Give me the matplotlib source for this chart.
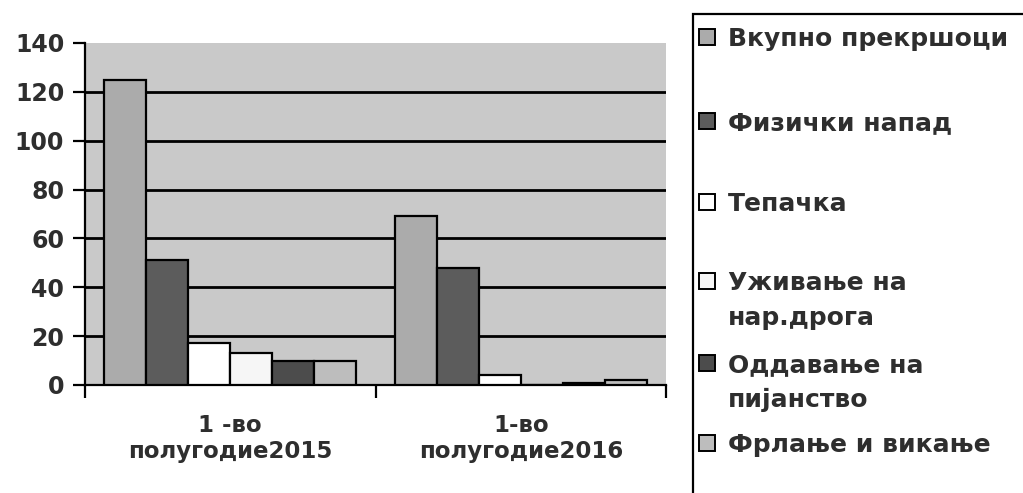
import matplotlib
matplotlib.use("Agg")
import matplotlib.pyplot as plt
from matplotlib.patches import Rectangle
import numpy as np

categories = ["1 -во\nполугодие2015", "1-во\nполугодие2016"]
series_names = ["Вкупно прекршоци", "Физички напад", "Тепачка",
                "Уживање на\nнар.дрога", "Оддавање на\nпијанство", "Фрлање и викање"]
values_2015 = [125, 51, 17, 13, 10, 10]
values_2016 = [69, 48, 4, 0, 1, 2]
yticks = [0, 20, 40, 60, 80, 100, 120, 140]

colors = ["#ababab", "#5c5c5c", "#ffffff", "#f6f6f6", "#4c4c4c", "#bdbdbd"]
txt = "#2e2e2e"
font = "DejaVu Sans"

W, H = 1023, 493
fig = plt.figure(figsize=(W / 100, H / 100), dpi=100)
fig.patch.set_facecolor("white")
ax = fig.add_axes([85 / W, 1 - 385 / H, (666 - 85) / W, (385 - 43) / H])
ax.set_facecolor("#c9c9c9")

n = len(series_names)
gap = 0.92
bw = 1.0 / (n + gap)
x = np.arange(len(categories))
data = np.array([values_2015, values_2016])
for i in range(n):
    off = (i - (n - 1) / 2) * bw
    ax.bar(x + off, data[:, i], width=bw, color=colors[i], edgecolor="black",
           linewidth=1.6, zorder=3)

ax.set_xlim(-0.5, len(categories) - 0.5)
ax.set_ylim(0, 140)
for t in yticks[1:-1]:
    ax.axhline(t, color="black", linewidth=2.0, zorder=1)

ax.set_yticks(yticks)
ax.set_yticklabels([str(t) for t in yticks], fontsize=17, fontweight="bold",
                   color=txt, family=font)
ax.tick_params(axis="y", direction="out", length=9, width=1.6, color="black", pad=6)
ax.set_xticks(x)
ax.set_xticklabels(categories, fontsize=16.5, fontweight="bold", color=txt,
                   family=font, linespacing=1.15)
ax.tick_params(axis="x", which="major", length=0, pad=21)
ax.set_xticks(np.arange(-0.5, len(categories), 1.0), minor=True)
ax.tick_params(axis="x", which="minor", direction="out", length=9, width=1.6, color="black")

for s in ["top", "right"]:
    ax.spines[s].set_visible(False)
ax.spines["left"].set_linewidth(1.6)
ax.spines["bottom"].set_linewidth(1.6)

# legend panel
fig.add_artist(Rectangle((693 / W, 1 - 500 / H), (1040 - 693) / W, (500 - 14) / H,
                         transform=fig.transFigure, facecolor="white",
                         edgecolor="black", linewidth=1.6, clip_on=False))
baselines = [46, 130, 211, 290, 372, 452]
line_gap = 35
for i, name in enumerate(series_names):
    b = baselines[i]
    fig.add_artist(Rectangle((699 / W, 1 - (b - 1) / H), 16 / W, 16 / H,
                             transform=fig.transFigure, facecolor=colors[i],
                             edgecolor="black", linewidth=1.4))
    for j, line in enumerate(name.split("\n")):
        fig.text(728 / W, 1 - (b + j * line_gap) / H, line, fontsize=18,
                 fontweight="bold", color=txt, family=font, va="baseline", ha="left")

fig.savefig("out.png", dpi=100)
